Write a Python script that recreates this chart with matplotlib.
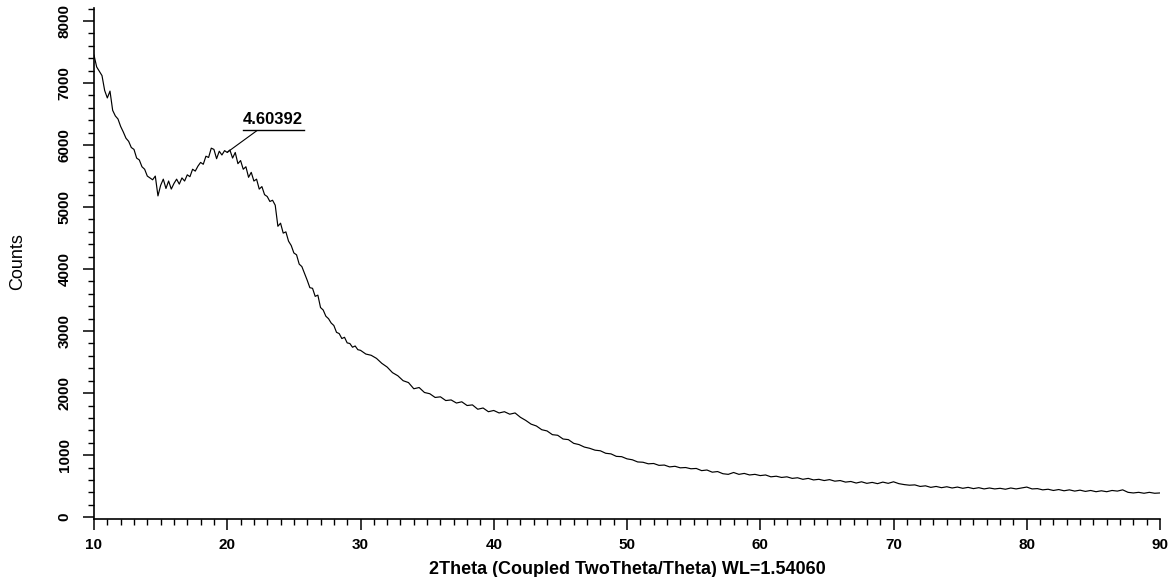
import matplotlib
matplotlib.use("Agg")
import matplotlib.pyplot as plt
import numpy as np
from matplotlib.ticker import MultipleLocator

# sampling positions (2theta, degrees): fine steps on the hump, coarser on the tail
two_theta_low = np.linspace(10.0, 30.0, 101)   # step 0.2
two_theta_high = np.linspace(30.4, 90.0, 150)  # step 0.4

counts_low = [
    7450, 7260, 7190, 7120, 6880, 6760, 6870, 6560, 6470, 6420,
    6300, 6210, 6110, 6060, 5960, 5930, 5790, 5760, 5650, 5610,
    5500, 5470, 5440, 5500, 5180, 5350, 5450, 5300, 5420, 5290,
    5380, 5450, 5370, 5470, 5420, 5520, 5490, 5610, 5580, 5660,
    5720, 5690, 5820, 5800, 5950, 5930, 5780, 5900, 5840, 5910,
    5880, 5920, 5790, 5880, 5700, 5750, 5610, 5650, 5480, 5560,
    5420, 5450, 5290, 5330, 5200, 5170, 5090, 5110, 5030, 4690,
    4740, 4580, 4600, 4450, 4380, 4260, 4230, 4080, 4040, 3930,
    3820, 3700, 3690, 3560, 3580, 3380, 3340, 3240, 3200, 3130,
    3090, 2980, 2960, 2880, 2900, 2810, 2800, 2740, 2760, 2700,
    2690,
]

counts_high = [
    2630, 2610, 2560, 2480, 2420, 2330, 2280, 2200, 2170, 2070,
    2090, 2010, 1990, 1930, 1940, 1880, 1890, 1840, 1860, 1800,
    1810, 1740, 1760, 1700, 1720, 1680, 1700, 1660, 1680, 1610,
    1560, 1500, 1470, 1410, 1390, 1330, 1320, 1260, 1250, 1190,
    1170, 1130, 1110, 1080, 1070, 1030, 1020, 980, 975, 940,
    925, 890, 885, 860, 865, 835, 840, 810, 820, 795,
    800, 780, 785, 750, 760, 725, 735, 700, 690, 720,
    690, 705, 680, 690, 670, 680, 650, 660, 640, 650,
    625, 635, 610, 625, 600, 610, 590, 605, 580, 590,
    565, 575, 550, 570, 545, 560, 540, 565, 545, 570,
    540, 525, 515, 520, 495, 505, 480, 495, 475, 490,
    470, 485, 465, 480, 460, 475, 455, 470, 455, 465,
    450, 470, 455, 470, 485, 455, 460, 440, 450, 430,
    445, 425, 440, 420, 435, 415, 430, 410, 425, 410,
    430, 420, 440, 400, 390, 400, 385, 400, 385, 390,
]

two_theta = np.concatenate([two_theta_low, two_theta_high])
counts = np.array(counts_low + counts_high)

peak_label = "4.60392"
x_label = "2Theta (Coupled TwoTheta/Theta) WL=1.54060"
y_label = "Counts"

bold_font = ["Liberation Sans", "DejaVu Sans"]

fig = plt.figure(figsize=(11.73, 5.77), dpi=100)
ax = fig.add_axes([94 / 1173, 1 - 519 / 577, (1160 - 94) / 1173, (519 - 8) / 577])

ax.plot(two_theta, counts, color="black", lw=0.85)

ax.set_xlim(10, 90)
ax.set_ylim(-30, 8210)

for s in ["top", "right"]:
    ax.spines[s].set_visible(False)
for s in ["left", "bottom"]:
    ax.spines[s].set_linewidth(1.2)

ax.xaxis.set_major_locator(MultipleLocator(10))
ax.xaxis.set_minor_locator(MultipleLocator(1))
ax.yaxis.set_major_locator(MultipleLocator(1000))
ax.yaxis.set_minor_locator(MultipleLocator(200))
ax.tick_params(axis="both", which="major", direction="out", length=8, width=1.1)
ax.tick_params(axis="both", which="minor", direction="out", length=4, width=1.0)
ax.tick_params(axis="x", pad=6)
ax.tick_params(axis="y", pad=8)

for lab in ax.get_xticklabels():
    lab.set_fontfamily(bold_font)
    lab.set_fontweight("bold")
    lab.set_fontsize(11)
for lab in ax.get_yticklabels():
    lab.set_fontfamily(bold_font)
    lab.set_fontweight("bold")
    lab.set_fontsize(11)
    lab.set_rotation(90)
    lab.set_va("center")

ax.set_xlabel(x_label, fontfamily=bold_font, fontweight="bold", fontsize=13, labelpad=6)
fig.text(18 / 1173, 1 - 262 / 577, y_label, rotation=90, ha="center", va="center",
         fontfamily=bold_font, fontsize=13)

# peak annotation
ax.plot([21.16, 25.73], [6240, 6240], color="black", lw=1.0)
ax.plot([22.21, 20.04], [6230, 5890], color="black", lw=0.8)
ax.text(23.4, 6290, peak_label, ha="center", va="bottom",
        fontfamily=bold_font, fontweight="bold", fontsize=12)

fig.savefig("out.png", dpi=100)
